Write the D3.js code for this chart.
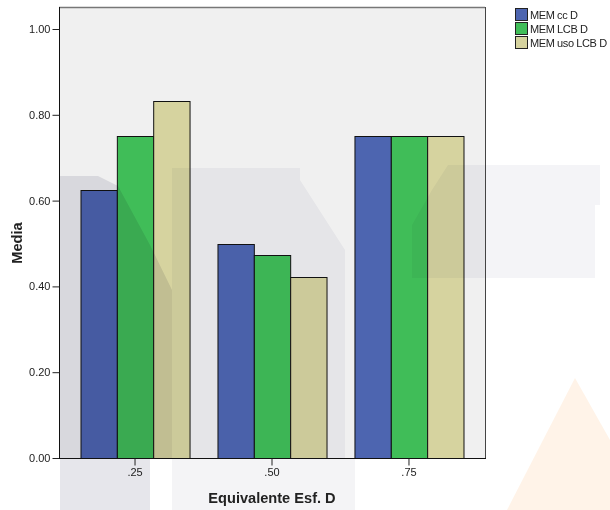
<!DOCTYPE html>
<html><head><meta charset="utf-8">
<script src="https://cdn.jsdelivr.net/npm/d3@7"></script>
<style>
html,body{margin:0;padding:0;background:#fff;}
svg{display:block;font-family:"Liberation Sans",Arial,sans-serif;}
</style></head>
<body>
<svg id="chart" width="610" height="510"></svg>
<script>
const categories = [".25", ".50", ".75"];
const seriesNames = ["MEM cc D", "MEM LCB D", "MEM uso LCB D"];
const memCcD    = [0.625, 0.500, 0.750];
const memLcbD   = [0.750, 0.474, 0.750];
const memUsoLcbD= [0.833, 0.421, 0.750];
const seriesValues = [memCcD, memLcbD, memUsoLcbD];
const seriesColors = ["#4d65b0", "#40bd58", "#d6d39f"];
const yTicks = [0, 0.2, 0.4, 0.6, 0.8, 1.0];

const svg = d3.select("#chart");
const L = 59, R = 485, T = 7, B = 458;
const y = d3.scaleLinear().domain([0, 1]).range([B, 29]);
const x0 = d3.scaleBand().domain(categories).range([L, R]).paddingInner(0.204).paddingOuter(0.157);
const x1 = d3.scaleBand().domain(seriesNames).range([0, x0.bandwidth()]).padding(0);

// plot background
svg.append("rect").attr("x", L).attr("y", T).attr("width", R - L).attr("height", B - T).attr("fill", "#f0f0f0");

// bars
const g = svg.append("g");
categories.forEach((c, ci) => {
  seriesNames.forEach((s, si) => {
    const v = seriesValues[si][ci];
    g.append("rect")
      .attr("x", x0(c) + x1(s) + 0.5)
      .attr("y", Math.round(y(v)) + 0.5)
      .attr("width", x1.bandwidth())
      .attr("height", B - Math.round(y(v)))
      .attr("fill", seriesColors[si])
      .attr("stroke", "#111").attr("stroke-width", 1);
  });
});

// faint background watermark
const wm = svg.append("g").style("pointer-events", "none");
function poly(pts, fill){
  wm.append("polygon").attr("points", pts.map(p => p.join(",")).join(" "))
    .attr("fill", fill).style("mix-blend-mode", "multiply");
}
poly([[59,176],[98,176],[118,186],[150,245],[172,290],[172,458],[150,458],[150,510],[60,510],[60,458],[59,458]], "#e6e6eb");
poly([[172,168],[300,168],[300,180],[345,250],[345,458],[172,458]], "#f4f4f7");
poly([[172,458],[355,458],[355,510],[172,510]], "#f4f4f6");
poly([[412,278],[412,225],[432,190],[448,165],[600,165],[600,205],[595,205],[595,278]], "#f4f4f7");
svg.append("polygon").attr("points", "575,378 610,440 610,510 507,510").attr("fill", "#fff3e8");

// frame top/right
svg.append("line").attr("x1", L).attr("x2", R).attr("y1", T + 0.5).attr("y2", T + 0.5).attr("stroke", "#777").attr("stroke-width", 1.5);
svg.append("line").attr("x1", R + 0.5).attr("x2", R + 0.5).attr("y1", T).attr("y2", B).attr("stroke", "#444");

// y axis
const yAxis = d3.axisLeft(y).tickValues(yTicks).tickFormat(d3.format(".2f")).tickSize(7).tickPadding(2);
const ya = svg.append("g").attr("transform", `translate(${L + 0.5},0)`).call(yAxis);
ya.select(".domain").attr("d", `M0,${T}V${B + 0.5}`).attr("stroke", "#111");
ya.selectAll(".tick line").attr("stroke", "#222");
ya.selectAll(".tick text").attr("fill", "#222").style("font-size", "11px").style("font-family", "Liberation Sans, Arial, sans-serif");

// x axis
const xAxis = d3.axisBottom(x0).tickSize(7).tickPadding(3);
const xa = svg.append("g").attr("transform", `translate(0,${B + 0.5})`).call(xAxis);
xa.select(".domain").attr("d", `M${L},0H${R + 1}`).attr("stroke", "#111");
xa.selectAll(".tick line").attr("stroke", "#222");
xa.selectAll(".tick text").attr("fill", "#222").style("font-size", "11px").style("font-family", "Liberation Sans, Arial, sans-serif");

// axis titles
svg.append("text").attr("transform", "translate(22,243) rotate(-90)").attr("text-anchor", "middle")
  .style("font-size", "14.6px").style("font-weight", "bold").attr("fill", "#222").text("Media");
svg.append("text").attr("x", 272).attr("y", 503).attr("text-anchor", "middle")
  .style("font-size", "14.6px").style("font-weight", "bold").attr("fill", "#222").text("Equivalente Esf. D");

// legend
const lg = svg.append("g").attr("transform", "translate(515,8)");
seriesNames.forEach((s, i) => {
  lg.append("rect").attr("x", 0.5).attr("y", i * 14 + 0.5).attr("width", 12).attr("height", 12)
    .attr("fill", seriesColors[i]).attr("stroke", "#222");
  lg.append("text").attr("x", 15).attr("y", i * 14 + 10.5).style("font-size", "11px")
    .style("letter-spacing", "-0.4px").attr("fill", "#222").text(s);
});
</script>
</body></html>
